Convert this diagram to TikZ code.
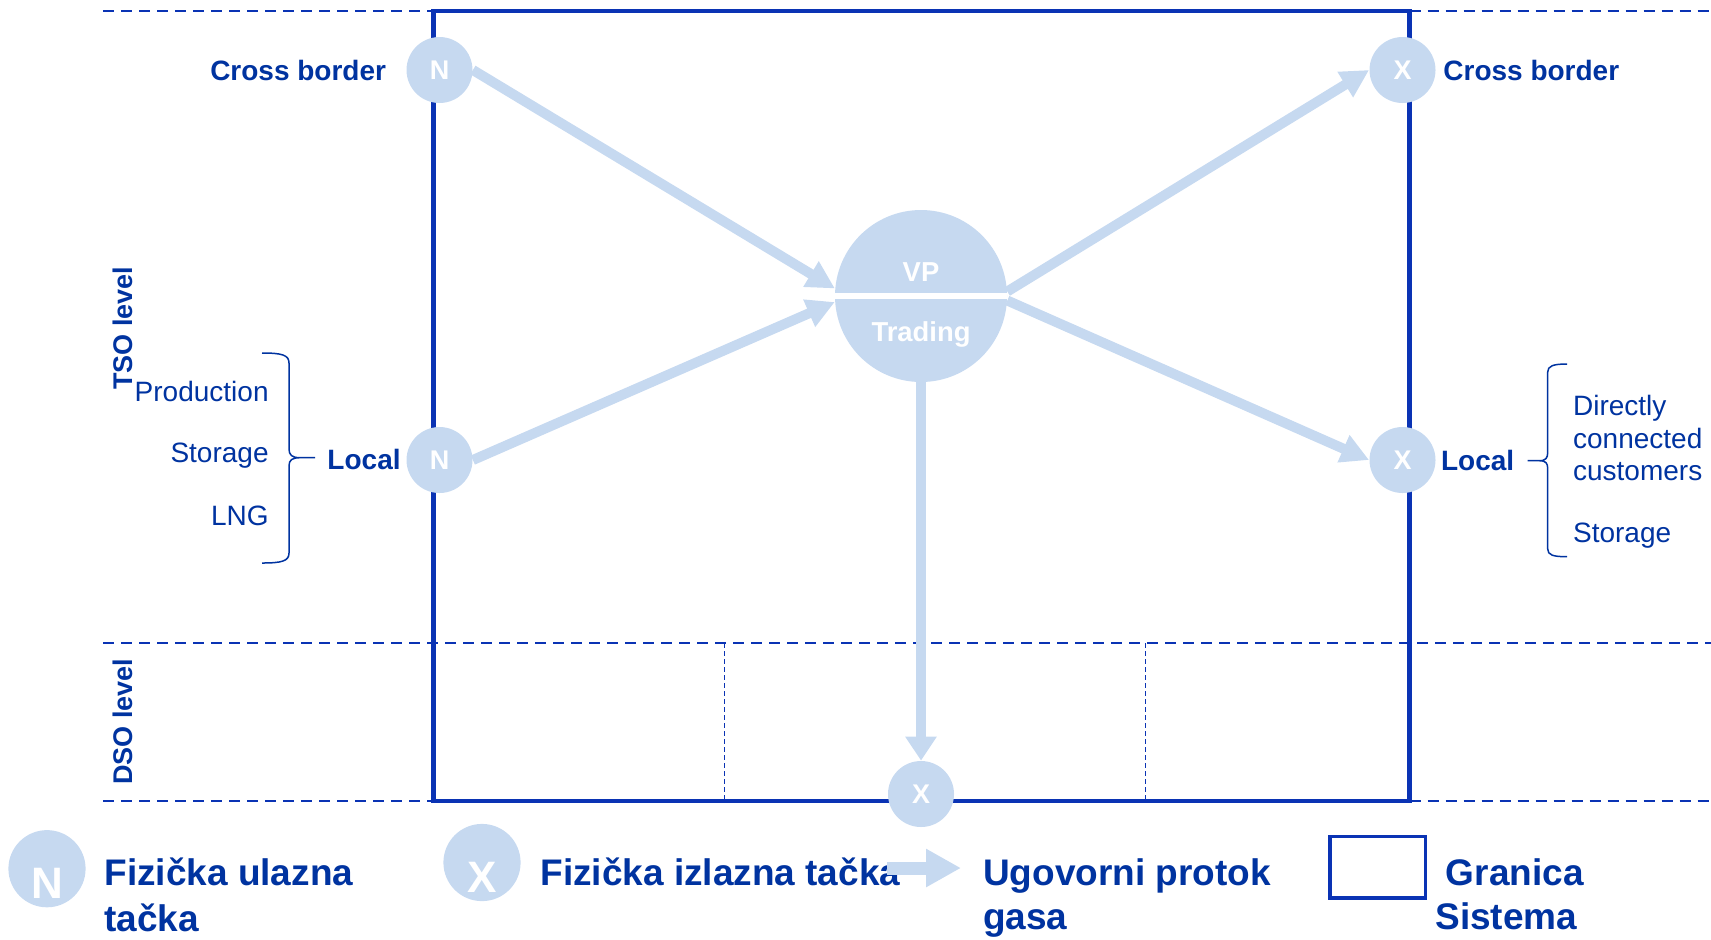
\documentclass[tikz,border=0pt]{standalone}
\usepackage{fontspec}
\setmainfont{Liberation Sans}
\usetikzlibrary{arrows.meta}
\definecolor{dblue}{HTML}{0033A0}
\definecolor{bblue}{HTML}{0A33B4}
\definecolor{lblue}{HTML}{C6D9F0}
\begin{document}
\begin{tikzpicture}[x=0.5pt,y=-0.5pt,
  sysbox/.style={draw=bblue,line width=2.25pt},
  lvl/.style={draw=bblue,line width=1pt,dash pattern=on 5.5pt off 3.5pt},
  thindash/.style={draw=bblue,line width=0.5pt,dash pattern=on 2.5pt off 1.5pt},
  pt/.style={circle,fill=lblue,minimum size=33pt,inner sep=0pt,text=white,font=\fontsize{13.5}{15}\selectfont\bfseries},
  legcirc/.style={circle,fill=lblue,minimum size=38.6pt,inner sep=0pt},
  legletter/.style={inner sep=0pt,text=white,font=\fontsize{22}{26}\selectfont\bfseries},
  flow/.style={draw=lblue,line width=5pt,-{Triangle[length=14pt,width=14pt]}},
  lbl/.style={inner sep=0pt,text=dblue,font=\fontsize{14}{16.8}\selectfont\bfseries},
  reg/.style={inner sep=0pt,text=dblue,font=\fontsize{14}{16.8}\selectfont},
  legtxt/.style={inner sep=0pt,text=dblue,font=\fontsize{18.5}{22}\selectfont\bfseries,anchor=base west},
  bracestyle/.style={draw=dblue,line width=0.75pt},
  vptxt/.style={inner sep=0pt,text=white,font=\fontsize{13.7}{16}\selectfont\bfseries,anchor=base}
]
\useasboundingbox (0,0) rectangle (1711,939);

% level lines
\draw[lvl] (103,11) -- (433,11);
\draw[lvl] (1409.5,11) -- (1711,11);
\draw[lvl] (103,643) -- (1711,643);
\draw[lvl] (103,801) -- (433,801);
\draw[lvl] (1409.5,801) -- (1711,801);
\draw[thindash] (724,643) -- (724,801);
\draw[thindash] (1145.5,643) -- (1145.5,801);

% system border
\draw[sysbox] (433.5,11) rectangle (1409.5,801);

% points
\node[pt] (ntop) at (439.5,70) {N};
\node[pt] (nloc) at (439.5,460) {N};
\node[pt] (xtop) at (1402.5,70) {X};
\node[pt] (xloc) at (1402.5,460) {X};
\node[pt] (xbot) at (921,794) {X};

% VP
\node[circle,fill=lblue,minimum size=86pt,inner sep=0pt] (vp) at (921,296) {};
\draw[white,line width=3.25pt] (vp.west) -- (vp.east);
\node[vptxt] (vpt) at (921,281.7) {VP};
\node[vptxt] (trd) at (921,341) {Trading};

% flows
\draw[flow] (ntop.east) -- (vp.175);
\draw[flow] (nloc.east) -- (vp.184);
\draw[flow] (vp.3) -- (xtop.west);
\draw[flow] (vp.-3) -- (xloc.west);
\draw[flow,-{Triangle[length=12pt,width=15pt]}] (vp.south) -- (xbot.north);

% labels
\node[lbl,anchor=base east] (cbl) at (386.5,80) {Cross border};
\node[lbl,anchor=base west] (cbr) at (1443,80) {Cross border};
\node[lbl,anchor=base east] (locl) at (401,469) {Local};
\node[lbl,anchor=base west] (locr) at (1440.7,470) {Local};

\node[reg,anchor=base east] (prod) at (269,401.7) {Production};
\node[reg,anchor=base east] (stl) at (269,462.7) {Storage};
\node[reg,anchor=base east] (lng) at (269,525) {LNG};

\node[reg,anchor=base west] (dc1) at (1572.7,415) {Directly};
\node[reg,anchor=base west] (dc2) at (1572.7,448.3) {connected};
\node[reg,anchor=base west] (dc3) at (1572.7,480.5) {customers};
\node[reg,anchor=base west] (str) at (1572.7,542) {Storage};

% braces
\coordinate (lbt) at (262,353);
\coordinate (lbb) at (262,563);
\coordinate (lbtip) at (315,457.7);
\draw[bracestyle] (lbt) .. controls +(20,0) and +(0,-8) .. (289,363) -- (289,449)
  .. controls +(0,6) and +(-8,0) .. (300,457.7) -- (lbtip)
  (300,457.7) .. controls +(-8,0) and +(0,-6) .. (289,466) -- (289,553)
  .. controls +(0,8) and +(20,0) .. (lbb);
\coordinate (rbt) at (1567,364);
\coordinate (rbb) at (1567,556.7);
\coordinate (rbtip) at (1527.7,460.7);
\draw[bracestyle] (rbt) .. controls +(-14,0) and +(0,-6) .. (1547.7,372) -- (1547.7,452)
  .. controls +(0,6) and +(7,0) .. (1539,460.7) -- (rbtip)
  (1539,460.7) .. controls +(7,0) and +(0,-6) .. (1547.7,469) -- (1547.7,549)
  .. controls +(0,6) and +(-14,0) .. (rbb);

% level names
\node[lbl,rotate=90,font=\fontsize{13.5}{16}\selectfont\bfseries] (tso) at (123,328) {TSO level};
\node[lbl,rotate=90,font=\fontsize{13.5}{16}\selectfont\bfseries] (dso) at (123,721.7) {DSO level};

% legend
\node[legcirc] (legN) at (47,868.7) {};
\node[legletter,anchor=base] (legNt) at (47,898) {N};
\node[legtxt] (l1a) at (104,885.7) {Fizička ulazna};
\node[legtxt] (l1b) at (104,931) {tačka};

\node[legcirc] (legX) at (482,862.5) {};
\node[legletter,anchor=base] (legXt) at (482,892) {X};
\node[legtxt] (l2a) at (540,885.7) {Fizička izlazna tačka};

\coordinate (la0) at (887,868);
\coordinate (la1) at (961,868);
\draw[draw=lblue,line width=6.5pt,-{Triangle[length=17.5pt,width=18pt]}] (la0) -- (la1);
\node[legtxt] (l3a) at (982.7,885.7) {Ugovorni protok};
\node[legtxt] (l3b) at (982.7,929) {gasa};

\draw[draw=bblue,line width=1.7pt] (1330,836.7) rectangle (1425.7,898);
\node[legtxt] (l4a) at (1445.5,885.7) {Granica};
\node[legtxt] (l4b) at (1435,929) {Sistema};
\end{tikzpicture}
\end{document}
